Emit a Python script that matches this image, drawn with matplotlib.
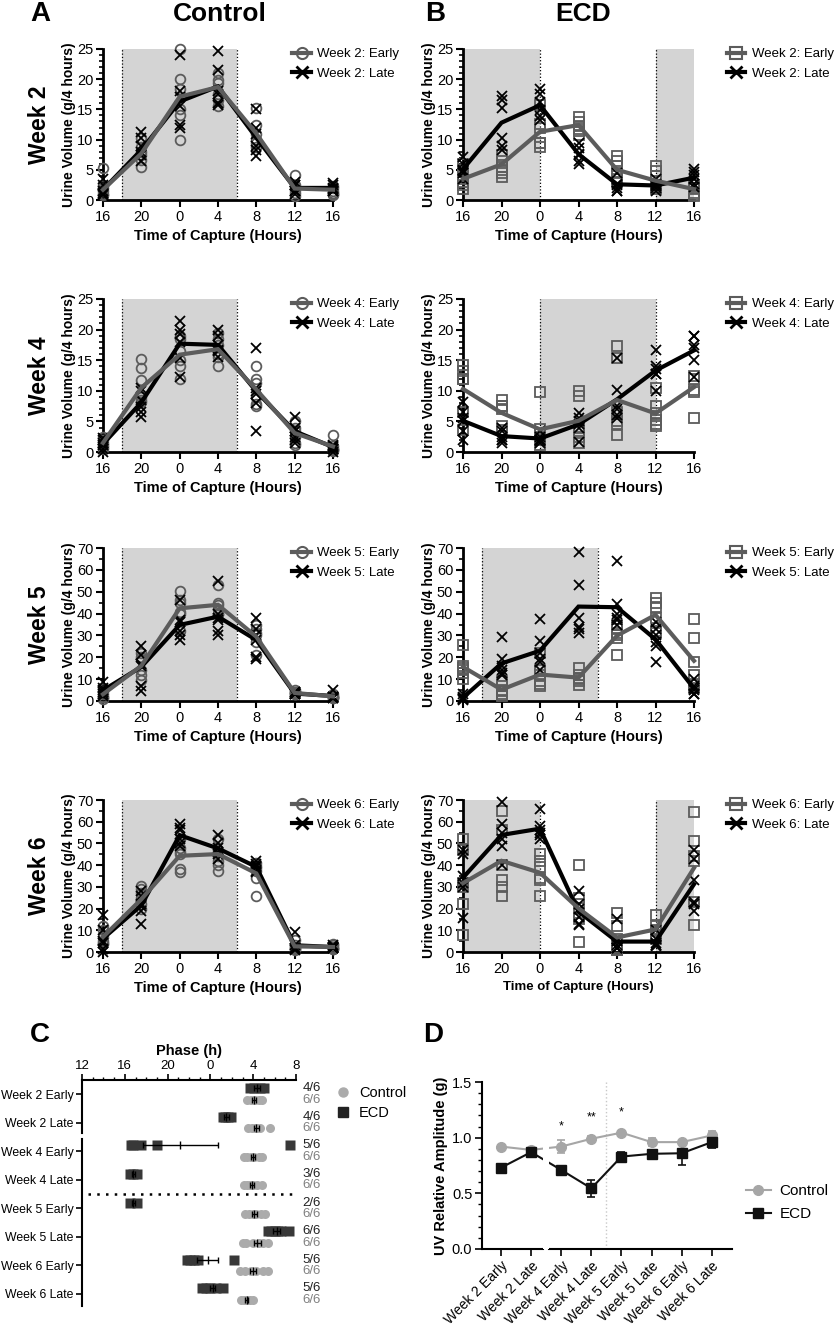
import numpy as np
import matplotlib
matplotlib.use("Agg")
import matplotlib.pyplot as plt
from matplotlib.ticker import MultipleLocator
from matplotlib.lines import Line2D

plt.rcParams['font.family'] = ['Liberation Sans', 'DejaVu Sans']

# ---- panels A/B: urine volume per 4 h capture ----
HOURS = ["16", "20", "0", "4", "8", "12", "16"]

# control, week 2
C2E = [[5.3, 2.5, 2.0, 1.5, 1.0, 0.8], [10.2, 8.8, 8.0, 7.5, 6.6, 5.5], [25, 20, 18.3, 15, 14, 10],
       [21, 19.9, 19.4, 17.6, 16.6, 15.5], [15.2, 12.4, 11, 10, 9.4, 8.8], [4.1, 2.5, 2.2, 1.7, 1.1, 0.6],
       [2.3, 2, 1.5, 1.2, 1.0, 0.8]]
C2E_M = [1.7, 7.7, 17.1, 18.7, 11.0, 1.9, 1.7]
C2L = [[3.5, 2.5, 1.5, 1.2, 1, 0.8], [11.3, 10.3, 9, 8, 7.5, 6.5], [24, 18, 17, 15.5, 12.5, 12],
       [24.7, 21.5, 18, 17.5, 16, 15.8], [15, 12, 11, 9, 8.2, 7.3], [3, 2.5, 2.5, 1.5, 1.5, 1],
       [2.8, 2.5, 2, 1.8, 1.5, 1.5]]
C2L_M = [1.7, 8.3, 16.3, 18.8, 10.3, 2.0, 2.0]

# ECD, week 2
E2E = [[6, 5, 4, 3, 2.5, 1.8], [7.4, 6.5, 5.5, 5, 4.5, 3.8], [15.7, 12.6, 12, 9.5, 9.5, 8.8],
       [13.8, 12.9, 12.2, 11.8, 11.5, 10.8], [7.3, 6.5, 5.6, 4.5, 3.5, 3], [5.6, 4.8, 3.9, 2.5, 2, 1.8],
       [2.5, 2, 1.8, 1.2, 0.8, 0.7]]
E2E_M = [3.5, 5.9, 11.3, 12.4, 5.0, 3.2, 1.8]
E2L = [[7.1, 6, 5, 4.8, 4.5, 3.5], [17.3, 16.6, 15.3, 10.3, 9.0, 8.3], [18.3, 17.5, 16.3, 14.9, 13.9, 13.3],
       [9.4, 8.6, 7.6, 7.5, 6.5, 6.0], [4.4, 2.6, 2.5, 2.0, 1.5, 1.5], [3.5, 2.6, 2.5, 2.3, 2.0, 1.5],
       [5.1, 4.7, 4.2, 3.5, 2.6, 2.1]]
E2L_M = [5.1, 12.8, 15.7, 7.6, 2.6, 2.4, 3.7]

# control, week 4
C4E = [[2.5, 2, 1.5, 1.2, 0.8, 0.5], [15.2, 13.8, 11.8, 9.0, 8.5, 8.2], [19, 18.5, 16.5, 15, 14, 12],
       [19.5, 18.5, 17.5, 16, 15.5, 14.1], [14, 12, 11.3, 9, 7.8, 7.5], [5, 4, 3.5, 2.5, 1.5, 1.2],
       [2.8, 1, 0.5, 0.5, 0.3, 0.2]]
C4E_M = [1.5, 10.5, 15.9, 16.8, 10.2, 3.1, 0.9]
C4L = [[2.3, 2, 1.5, 1.2, 0.5, 0], [10.5, 10, 8.5, 7.4, 6.5, 5.8], [21.4, 20, 19.2, 18, 15.4, 12.2],
       [19.9, 19, 17.5, 16.6, 16.5, 15.5], [17, 10.5, 10, 9.5, 8, 3.4], [5.7, 4, 3.5, 2.5, 2, 1.5],
       [1.2, 1, 0.8, 0.5, 0.5, 0]]
C4L_M = [1.3, 8.1, 17.7, 17.5, 9.9, 3.4, 0.8]

# ECD, week 4
E4E = [[14.2, 13.2, 12, 12, 6.5, 3.6], [8.5, 7.5, 7.5, 7.0, 4.2, 3.6], [9.8, 3.7, 3, 2.5, 2, 1.2],
       [10, 9.2, 4, 3.5, 2.5, 1.5], [17.3, 15.4, 6.5, 5, 4.5, 2.7], [10.4, 7.5, 6.3, 5.2, 4.5, 4.2],
       [12.5, 12, 10.2, 9.8, 5.6]]
E4E_M = [10.3, 6.4, 3.7, 5.1, 8.5, 6.3, 10.6]
E4L = [[8.1, 6.5, 5.5, 5.0, 3.5, 2.0], [4, 3.5, 2.5, 2, 2, 1.5], [3.5, 2.5, 2, 2, 1.8, 1.5],
       [6.4, 5.5, 5, 4.5, 4, 1.7], [15.4, 10.2, 7.5, 7, 6, 5.5], [16.7, 14, 13.5, 12.8, 12.7, 10],
       [19, 18.9, 17.5, 17, 15, 12.2]]
E4L_M = [5.1, 2.6, 2.2, 4.5, 8.6, 13.3, 16.6]

# control, week 5
C5E = [[6, 4.5, 3, 2, 2, 1], [22, 20, 19, 14, 12, 9.5], [50.5, 46, 45, 40.9, 40, 32],
       [53, 45, 44, 42, 40, 40], [35, 33, 31, 30, 27, 21], [5, 4, 4, 3.5, 3, 3], [3, 2.5, 2, 2, 1.5, 1.5]]
C5E_M = [3.1, 16.1, 42.4, 44.0, 29.4, 3.7, 2.1]
C5L = [[8.5, 6, 5, 4, 3, 2.5], [25, 21, 17, 16, 7, 4.5], [46, 37, 36, 32, 30, 28],
       [55, 40, 38, 37, 32, 30], [38, 33, 30, 28, 20, 19], [4, 4, 3.5, 3, 3, 3], [5, 2, 2, 2, 1.5, 1.5]]
C5L_M = [4.9, 15.6, 34.8, 38.6, 27.9, 3.4, 2.3]

# ECD, week 5
E5E = [[25.5, 16, 15, 14, 13, 10], [9, 7, 5, 4.5, 3, 2.5], [22, 14, 12, 9, 8, 7],
       [15, 12, 10.5, 10, 9, 7.5], [35, 33, 31, 30, 29, 21], [47, 45, 43, 38, 32, 31],
       [37.5, 29, 18, 12, 8, 6]]
E5E_M = [15.6, 5.2, 12.1, 10.7, 29.9, 39.4, 18.4]
E5L = [[3, 2, 1.5, 1, 1, 0.5], [29.5, 19, 16, 14, 13, 12], [37.5, 27.5, 22, 19, 18, 14],
       [68, 53, 38, 34, 33, 31], [64, 44.5, 40, 38, 37, 35], [36, 33, 30, 27, 25, 18], [10, 7, 6, 5, 3, 3]]
E5L_M = [1.5, 17.2, 23.0, 43.2, 42.9, 28.2, 5.7]

# control, week 6
C6E = [[12, 10, 7, 5, 4, 3.5], [30.5, 29, 27, 25, 22, 20], [52, 48, 46, 45, 38, 37],
       [52, 47, 44, 42, 40, 37.5], [41, 39.5, 38.5, 37.5, 34, 26], [5.5, 3, 2.5, 2, 1.5, 1],
       [3.5, 3, 2.5, 2, 1.5, 1.3]]
C6E_M = [6.9, 24.3, 44.3, 45.1, 36.2, 2.6, 2.3]
C6L = [[17, 10, 5, 4, 1.5, 0], [28, 26, 22, 21, 19, 13], [59, 57, 56, 52, 50, 49],
       [54, 50, 48, 46, 45, 43], [42, 40.5, 39.5, 39, 37.5, 37], [9, 3, 2, 2, 1.5, 1],
       [3, 2.5, 2.5, 2, 2, 1.8]]
C6L_M = [6.2, 21.5, 53.8, 47.7, 39.2, 3.1, 2.3]

# ECD, week 6
E6E = [[52, 47, 32, 30, 22, 8], [65, 56, 40, 33, 30, 26], [45, 42, 39, 34, 33, 26],
       [40, 25, 22, 18, 15, 4.5], [18, 12, 6, 2, 1, 1], [17, 12, 10, 9.5, 8, 6],
       [64.5, 51, 44, 42, 23, 12.5]]
E6E_M = [31.7, 42.0, 36.5, 20.1, 6.7, 10.4, 38.7]
E6L = [[47, 45, 35, 32, 30, 15.5], [69, 59, 55, 52, 49, 40], [66, 58, 56, 55, 54, 52],
       [28, 22, 20, 16, 13, 12.6], [15, 5, 3, 2, 2, 2], [10, 6, 4, 3, 3, 2.8], [47, 43, 33, 23, 22, 19]]
E6L_M = [34.2, 53.9, 56.8, 18.6, 4.8, 4.8, 31.2]

# ---- panel C: phase ----
ROWS = ["Week 2 Early", "Week 2 Late", "Week 4 Early", "Week 4 Late",
        "Week 5 Early", "Week 5 Late", "Week 6 Early", "Week 6 Late"]
ECD_PHASE = [[27.7, 28.1, 28.6, 29.0], [25.2, 25.4, 25.6, 25.9], [16.6, 16.8, 17.5, 19.0, 31.4],
             [16.5, 16.8, 17.1], [16.5, 17.1], [29.4, 29.7, 30.0, 30.3, 30.6, 31.3],
             [21.8, 22.1, 22.5, 22.8, 26.2], [23.2, 23.6, 24.0, 24.5, 25.2]]
ECD_MEAN = [28.35, 25.5, 21.2, 16.8, 16.8, 30.2, 23.75, 24.2]
ECD_SEM = [0.25, 0.2, 3.5, 0.15, 0.15, 0.35, 1.0, 0.25]
CTRL_PHASE = [[27.4, 27.8, 28.0, 28.2, 28.5, 28.8], [27.5, 27.9, 28.2, 28.4, 28.6, 29.6],
              [27.1, 27.4, 27.8, 28.1, 28.5, 28.8], [27.1, 27.4, 27.7, 28.0, 28.4, 28.8],
              [27.2, 27.6, 28.0, 28.3, 28.7, 29.1], [27.0, 27.3, 28.0, 28.5, 28.9, 29.4],
              [26.8, 27.2, 27.8, 28.3, 28.9, 29.4], [26.9, 27.1, 27.3, 27.5, 27.7, 28.0]]
CTRL_MEAN = [28.1, 28.3, 27.95, 27.9, 28.1, 28.4, 28.0, 27.4]
CTRL_SEM = [0.2, 0.25, 0.2, 0.2, 0.25, 0.3, 0.3, 0.15]
ECD_N = ["4/6", "4/6", "5/6", "3/6", "2/6", "6/6", "5/6", "5/6"]
CTRL_N = ["6/6"] * 8

# ---- panel D: UV relative amplitude ----
AMP_CTRL = [0.92, 0.89, 0.92, 0.99, 1.045, 0.96, 0.96, 1.02]
AMP_CTRL_SEM = [0.01, 0.015, 0.06, 0.025, 0.01, 0.035, 0.015, 0.04]
AMP_ECD = [0.73, 0.87, 0.71, 0.545, 0.83, 0.855, 0.86, 0.96]
AMP_ECD_SEM = [0.03, 0.02, 0.04, 0.075, 0.045, 0.015, 0.105, 0.055]
STARS = {2: ("*", 1.10), 3: ("**", 1.18), 4: ("*", 1.23)}

GREY = "#5c5c5c"
SHADE = "#d4d4d4"
W, H = 840, 1328


def fbox(x0, y0, x1, y1):
    return [x0 / W, 1 - y1 / H, (x1 - x0) / W, (y1 - y0) / H]


def uv_panel(ax, early, early_m, late, late_m, mk, ymax, spans, week, xl_size=10.5):
    for a, b in spans:
        ax.axvspan(a, b, color=SHADE, lw=0, zorder=0)
        for v in (a, b):
            if 0 < v < 6:
                ax.axvline(v, color="k", ls=":", lw=0.9, zorder=1)
    for i, vals in enumerate(early):
        ax.plot([i] * len(vals), vals, ls="none", marker=mk, ms=7, mfc="none",
                mec=GREY, mew=1.3, clip_on=False, zorder=3)
    for i, vals in enumerate(late):
        ax.plot([i] * len(vals), vals, ls="none", marker="x", ms=7.5, mec="k",
                mew=1.3, clip_on=False, zorder=3)
    x = np.arange(7)
    ax.plot(x, late_m, color="k", lw=3, clip_on=False, zorder=4, solid_joinstyle="miter")
    ax.plot(x, early_m, color=GREY, lw=3, clip_on=False, zorder=5, solid_joinstyle="miter")

    ax.set_xlim(0, 6)
    ax.set_ylim(0, ymax)
    ax.set_xticks(x, HOURS)
    if ymax <= 25:
        ax.yaxis.set_major_locator(MultipleLocator(5))
        ax.yaxis.set_minor_locator(MultipleLocator(1))
    else:
        ax.yaxis.set_major_locator(MultipleLocator(10))
        ax.yaxis.set_minor_locator(MultipleLocator(5))
    for s in ("top", "right"):
        ax.spines[s].set_visible(False)
    for s in ("left", "bottom"):
        ax.spines[s].set_linewidth(2)
    ax.tick_params(which="major", length=5, width=1.5, labelsize=10.5, pad=2)
    ax.tick_params(which="minor", length=3, width=1.2)
    ax.tick_params(axis="x", which="minor", bottom=False)
    ax.set_ylabel("Urine Volume (g/4 hours)", fontweight="bold", fontsize=10, labelpad=1)
    ax.set_xlabel("Time of Capture (Hours)", fontweight="bold", fontsize=xl_size, labelpad=4)

    hl = [Line2D([], [], color=GREY, lw=3, marker=mk, mfc="none", mec=GREY, ms=8, mew=1.5),
          Line2D([], [], color="k", lw=3, marker="x", ms=9, mew=2)]
    ax.legend(hl, [f"Week {week}: Early", f"Week {week}: Late"], loc="upper left",
              bbox_to_anchor=(1.12 if mk == "s" else 0.8, 1.04), frameon=False, fontsize=9.5,
              handlelength=1.4, handletextpad=0.5, labelspacing=0.55, borderaxespad=0)


fig = plt.figure(figsize=(8.4, 13.28), dpi=100)

rows_y = [(49, 200), (299, 452), (548, 701), (800, 952)]
weeks = [2, 4, 5, 6]
ctrl = [(C2E, C2E_M, C2L, C2L_M, 25), (C4E, C4E_M, C4L, C4L_M, 25),
        (C5E, C5E_M, C5L, C5L_M, 70), (C6E, C6E_M, C6L, C6L_M, 70)]
ecd = [(E2E, E2E_M, E2L, E2L_M, 25), (E4E, E4E_M, E4L, E4L_M, 25),
       (E5E, E5E_M, E5L, E5L_M, 70), (E6E, E6E_M, E6L, E6L_M, 70)]
ecd_spans = [[(0, 2), (5, 6)], [(2, 5)], [(0.5, 3.5)], [(0, 2), (5, 6)]]

for r, (y0, y1) in enumerate(rows_y):
    axa = fig.add_axes(fbox(103, y0, 333, y1))
    e, em, l, lm, ym = ctrl[r]
    uv_panel(axa, e, em, l, lm, "o", ym, [(0.5, 3.5)], weeks[r])
    axb = fig.add_axes(fbox(463, y0, 694, y1))
    e, em, l, lm, ym = ecd[r]
    uv_panel(axb, e, em, l, lm, "s", ym, ecd_spans[r], weeks[r], xl_size=9.5 if r == 3 else 10.5)
    fig.text(40 / W, 1 - (y0 + y1) / 2 / H, f"Week {weeks[r]}", rotation=90, ha="center",
             va="center", fontsize=16.5, fontweight="bold")

fig.text(40 / W, 1 - 14 / H, "A", ha="center", va="center", fontsize=20, fontweight="bold")
fig.text(220 / W, 1 - 14 / H, "Control", ha="center", va="center", fontsize=19, fontweight="bold")
fig.text(435 / W, 1 - 14 / H, "B", ha="center", va="center", fontsize=20, fontweight="bold")
fig.text(583 / W, 1 - 14 / H, "ECD", ha="center", va="center", fontsize=19, fontweight="bold")
fig.text(40 / W, 1 - 1035 / H, "C", ha="center", va="center", fontsize=20, fontweight="bold")
fig.text(433 / W, 1 - 1035 / H, "D", ha="center", va="center", fontsize=20, fontweight="bold")

# ---- panel C ----
axc = fig.add_axes(fbox(82, 1080, 296, 1306))
for i in range(len(ROWS)):
    axc.plot(CTRL_PHASE[i], [i + 0.2] * len(CTRL_PHASE[i]), ls="none", marker="o", ms=6.5,
             color="#ababab", mec="none", clip_on=False, zorder=2)
    axc.plot(ECD_PHASE[i], [i - 0.2] * len(ECD_PHASE[i]), ls="none", marker="s", ms=6.5,
             color="#383838", mec="none", clip_on=False, zorder=2)
    axc.errorbar(CTRL_MEAN[i], i + 0.2, xerr=CTRL_SEM[i], fmt="|", color="k", ms=6,
                 elinewidth=1, capsize=2, zorder=3)
    axc.errorbar(ECD_MEAN[i], i - 0.2, xerr=ECD_SEM[i], fmt="|", color="k", ms=6,
                 elinewidth=1, capsize=2, zorder=3)
    axc.text(1.03, i - 0.2, ECD_N[i], transform=axc.get_yaxis_transform(), ha="left",
             va="center", fontsize=9.5, color="#222222")
    axc.text(1.03, i + 0.2, CTRL_N[i], transform=axc.get_yaxis_transform(), ha="left",
             va="center", fontsize=9.5, color="#808080")
axc.axhline(3.5, xmin=0.03, xmax=1, color="k", ls=(0, (1, 2.5)), lw=1.8)
axc.set_xlim(12, 32)
axc.set_ylim(7.42, -0.49)
axc.xaxis.tick_top()
axc.xaxis.set_label_position("top")
axc.set_xticks([12, 16, 20, 24, 28, 32], ["12", "16", "20", "0", "4", "8"])
axc.xaxis.set_minor_locator(MultipleLocator(1))
axc.set_yticks(range(len(ROWS)), ROWS)
axc.set_xlabel("Phase (h)", fontweight="bold", fontsize=10.5, labelpad=3)
for s in ("bottom", "right", "left"):
    axc.spines[s].set_visible(False)
axc.spines["top"].set_linewidth(1.5)
axc.plot([0, 0], [-0.49, 1.38], color="k", lw=1.5, transform=axc.get_yaxis_transform(),
         clip_on=False)
axc.plot([0, 0], [1.58, 7.42], color="k", lw=1.5, transform=axc.get_yaxis_transform(),
         clip_on=False)
axc.tick_params(axis="x", which="major", length=4, width=1.2, labelsize=9.5, pad=2)
axc.tick_params(axis="x", which="minor", length=2.5, width=1)
axc.tick_params(axis="y", length=4, width=1.2, labelsize=8.8, pad=2)
hc = [Line2D([], [], ls="none", marker="o", ms=6.5, color="#ababab"),
      Line2D([], [], ls="none", marker="s", ms=6.5, color="#222222")]
axc.legend(hc, ["Control", "ECD"], loc="upper left", bbox_to_anchor=(330 / W, 1 - 1080 / H),
           bbox_transform=fig.transFigure, frameon=False, fontsize=10.5, handlelength=1,
           handletextpad=0.6, labelspacing=0.4, borderaxespad=0)

# ---- panel D ----
axd = fig.add_axes(fbox(482, 1082, 732, 1249))
xd = np.arange(len(ROWS))
axd.axvline(3.5, color="#c8c8c8", ls=":", lw=1, zorder=0)
axd.errorbar(xd, AMP_CTRL, yerr=AMP_CTRL_SEM, color="#a6a6a6", marker="o", ms=7, lw=1.5,
             capsize=3, elinewidth=1.2, capthick=1.2, zorder=3)
axd.errorbar(xd, AMP_ECD, yerr=AMP_ECD_SEM, color="#111111", marker="s", ms=7, lw=1.5,
             capsize=3, elinewidth=1.2, capthick=1.2, zorder=3)
axd.axvspan(1.4, 1.6, color="white", lw=0, zorder=3.5)
for k, (s, yv) in STARS.items():
    axd.text(k, yv, s, ha="center", va="center", fontsize=9)
axd.set_xlim(-0.63, 7.67)
axd.set_ylim(0, 1.5)
axd.yaxis.set_major_locator(MultipleLocator(0.5))
axd.yaxis.set_minor_locator(MultipleLocator(0.1))
axd.yaxis.set_major_formatter(lambda v, p: f"{v:.1f}")
axd.set_xticks(xd, ROWS, rotation=45, ha="right", rotation_mode="anchor")
for s in ("top", "right", "bottom"):
    axd.spines[s].set_visible(False)
axd.spines["left"].set_linewidth(1.5)
axd.plot([-0.63, 1.4], [0, 0], color="k", lw=1.5, transform=axd.get_xaxis_transform(),
         clip_on=False)
axd.plot([1.6, 7.67], [0, 0], color="k", lw=1.5, transform=axd.get_xaxis_transform(),
         clip_on=False)
axd.tick_params(which="major", length=5, width=1.2, labelsize=10.5, pad=2)
axd.tick_params(which="minor", length=3, width=1)
axd.tick_params(axis="x", which="minor", bottom=False)
axd.tick_params(axis="x", labelsize=10)
axd.set_ylabel("UV Relative Amplitude (g)", fontweight="bold", fontsize=10.5, labelpad=3)
hd = [Line2D([], [], color="#a6a6a6", marker="o", ms=7, lw=1.5),
      Line2D([], [], color="#111111", marker="s", ms=7, lw=1.5)]
axd.legend(hd, ["Control", "ECD"], loc="upper left", bbox_to_anchor=(740 / W, 1 - 1178 / H),
           bbox_transform=fig.transFigure, frameon=False, fontsize=11, handlelength=1.6,
           handletextpad=0.6, labelspacing=0.6, borderaxespad=0)

fig.savefig("out.png", dpi=100)
